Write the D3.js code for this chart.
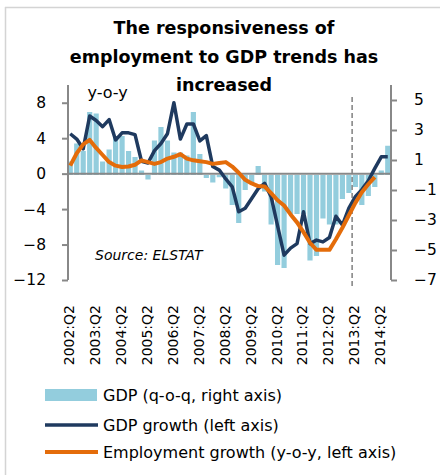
<!DOCTYPE html>
<html>
<head>
<meta charset="utf-8">
<script src="https://cdn.jsdelivr.net/npm/d3@7"></script>
<style>
  html, body { margin: 0; padding: 0; background: #fff; }
  svg { display: block; font-family: "DejaVu Sans", sans-serif; }
</style>
</head>
<body>
<svg id="chart" width="440" height="475"></svg>
<script>
// Quarterly categories, 2002:Q2 .. 2014:Q3
const quarters = [
  "2002:Q2","2002:Q3","2002:Q4","2003:Q1","2003:Q2","2003:Q3","2003:Q4","2004:Q1",
  "2004:Q2","2004:Q3","2004:Q4","2005:Q1","2005:Q2","2005:Q3","2005:Q4","2006:Q1",
  "2006:Q2","2006:Q3","2006:Q4","2007:Q1","2007:Q2","2007:Q3","2007:Q4","2008:Q1",
  "2008:Q2","2008:Q3","2008:Q4","2009:Q1","2009:Q2","2009:Q3","2009:Q4","2010:Q1",
  "2010:Q2","2010:Q3","2010:Q4","2011:Q1","2011:Q2","2011:Q3","2011:Q4","2012:Q1",
  "2012:Q2","2012:Q3","2012:Q4","2013:Q1","2013:Q2","2013:Q3","2013:Q4","2014:Q1",
  "2014:Q2","2014:Q3"
];

// GDP, quarter-on-quarter % (right axis)
const gdpQoQ = [
  0.9, 2.1, 1.6, 4.2, 4.1, 0.9, 1.7, 2.5, 2.6, 1.6,
  1.2, 0.3, -0.3, 2.3, 3.2, 2.3, 1.5, 1.5, 1.3, 4.2,
  1.4, -0.2, -0.5, -0.15, -0.9, -2.0, -3.2, -1.0, -0.6, 0.6,
  -1.1, -3.3, -6.0, -6.2, -2.6, -2.6, -2.6, -5.7, -5.4, -2.9,
  -3.3, -3.3, -1.6, -1.2, -0.8, -2.0, -1.4, -0.8, 0.3, 1.95
];

// GDP growth, year-on-year % (left axis)
const gdpGrowth = [
  4.5, 3.9, 2.8, 6.5, 6.0, 5.3, 6.1, 3.8, 4.6, 4.6,
  4.4, 1.4, 1.2, 2.6, 3.4, 4.5, 8.0, 3.9, 5.6, 5.6,
  3.7, 4.3, 0.8, 0.4, -0.6, -1.5, -4.3, -3.9, -2.8, -1.7,
  -1.1, -2.6, -5.9, -9.2, -8.4, -7.9, -4.3, -7.9, -7.5, -7.7,
  -7.2, -4.8, -5.8, -3.9, -2.6, -1.8, -0.8, 0.6, 1.9, 1.9
];

// Employment growth, year-on-year % (left axis), through 2014:Q1
const employmentGrowth = [
  0.9, 2.3, 3.3, 3.8, 2.9, 2.1, 1.3, 0.9, 0.75, 0.8,
  1.0, 1.5, 1.3, 1.1, 1.3, 1.7, 1.9, 2.2, 1.7, 1.5,
  1.4, 1.3, 1.1, 1.2, 1.3, 0.8, 0.1, -0.7, -1.1, -1.4,
  -1.45, -2.2, -3.0, -3.6, -4.6, -5.5, -6.6, -7.8, -8.6, -8.6,
  -8.6, -7.4, -6.1, -4.7, -3.3, -2.1, -1.2, -0.4
];

const leftTicks = [-12, -8, -4, 0, 4, 8];
const rightTicks = [-7, -5, -3, -1, 1, 3, 5];
const labelQuarters = [
  "2002:Q2","2003:Q2","2004:Q2","2005:Q2","2006:Q2","2007:Q2","2008:Q2",
  "2009:Q2","2010:Q2","2011:Q2","2012:Q2","2013:Q2","2014:Q2"
];
const markerQuarter = "2013:Q2";

const titleLines = ["The responsiveness of", "employment to GDP trends has", "increased"];
const seriesNames = ["GDP (q-o-q, right axis)", "GDP growth (left axis)", "Employment growth (y-o-y, left axis)"];

const colors = { bar: "#93cddd", gdp: "#1f3a5f", emp: "#e46c0a", axis: "#888888", frame: "#d4d4d4" };

const svg = d3.select("#chart");

// light frame on the left and top
svg.append("line").attr("x1", 5.5).attr("x2", 5.5).attr("y1", 7).attr("y2", 475)
  .attr("stroke", colors.frame).attr("stroke-width", 1.5);
svg.append("line").attr("x1", 5).attr("x2", 440).attr("y1", 7.5).attr("y2", 7.5)
  .attr("stroke", colors.frame).attr("stroke-width", 1.5);

const plot = { left: 67, right: 391, top: 85, bottom: 280 };

const x = d3.scaleBand().domain(quarters).range([plot.left, plot.right])
  .paddingInner(0.2).paddingOuter(0.1);
const yL = d3.scaleLinear().domain([-12, 10]).range([plot.bottom, plot.top]);
const yR = d3.scaleLinear().domain([-7, 6]).range([plot.bottom, plot.top]);
const cx = q => x(q) + x.bandwidth() / 2;

// bars: GDP q-o-q on the right axis
svg.append("g").selectAll("rect").data(gdpQoQ).join("rect")
  .attr("x", (d, i) => x(quarters[i]))
  .attr("width", x.bandwidth())
  .attr("y", d => Math.min(yR(d), yR(0)))
  .attr("height", d => Math.abs(yR(d) - yR(0)))
  .attr("fill", colors.bar);

// left axis
const axL = svg.append("g").attr("transform", `translate(${plot.left + 1},0)`)
  .call(d3.axisLeft(yL).tickValues(leftTicks).tickSize(6).tickPadding(16).tickFormat(d3.format("d")));
axL.select(".domain").attr("d", `M0,${plot.top}V${plot.bottom}`);

// right axis
const axR = svg.append("g").attr("transform", `translate(${plot.right},0)`)
  .call(d3.axisRight(yR).tickValues(rightTicks).tickSize(6).tickPadding(17).tickFormat(d3.format("d")));
axR.select(".domain").attr("d", `M0,${plot.top}V${plot.bottom}`);

[axL, axR].forEach(ax => {
  ax.selectAll(".domain, .tick line").attr("stroke", colors.axis).attr("stroke-width", 2);
  ax.selectAll(".tick text").attr("fill", "#000").style("font-size", "15.5px")
    .style("font-family", "'DejaVu Sans', sans-serif");
});

// category axis along zero, labels at the bottom
svg.append("line").attr("x1", plot.left).attr("x2", plot.right)
  .attr("y1", yL(0)).attr("y2", yL(0))
  .attr("stroke", colors.axis).attr("stroke-width", 2);

const axX = svg.append("g").attr("transform", `translate(0,${plot.bottom})`)
  .call(d3.axisBottom(x).tickValues(labelQuarters).tickSize(0).tickPadding(0));
axX.select(".domain").remove();
axX.selectAll(".tick text")
  .attr("transform", "translate(-1,25) rotate(-90)")
  .attr("text-anchor", "end").attr("dy", "0.35em").attr("y", 0)
  .attr("fill", "#000").style("font-size", "14px")
  .style("font-family", "'DejaVu Sans', sans-serif");

// dashed marker at the start of 2013:Q2
const mx = x(markerQuarter) - (x.step() - x.bandwidth()) / 2;
svg.append("line").attr("x1", mx).attr("x2", mx).attr("y1", 97).attr("y2", 287)
  .attr("stroke", "#808080").attr("stroke-width", 1.5).attr("stroke-dasharray", "5,3");

// lines
const lineL = d3.line().x((d, i) => cx(quarters[i])).y(d => yL(d));
svg.append("path").datum(gdpGrowth).attr("d", lineL)
  .attr("fill", "none").attr("stroke", colors.gdp).attr("stroke-width", 3.5)
  .attr("stroke-linejoin", "round");
svg.append("path").datum(employmentGrowth).attr("d", lineL)
  .attr("fill", "none").attr("stroke", colors.emp).attr("stroke-width", 4)
  .attr("stroke-linejoin", "round");

// annotations
svg.append("text").attr("x", 87.5).attr("y", 98).text("y-o-y")
  .style("font-size", "16px");
svg.append("text").attr("x", 95).attr("y", 260).text("Source: ELSTAT")
  .style("font-size", "14px").style("font-style", "italic");

// title
svg.append("g").selectAll("text").data(titleLines).join("text")
  .attr("x", 224).attr("y", (d, i) => 34 + i * 28.5)
  .attr("text-anchor", "middle")
  .style("font-size", "17.5px").style("font-weight", "bold")
  .text(d => d);

// legend
const lg = svg.append("g");
const rows = [395, 425, 452];
lg.append("rect").attr("x", 45).attr("y", rows[0] - 6).attr("width", 52).attr("height", 12)
  .attr("fill", colors.bar);
lg.append("line").attr("x1", 45).attr("x2", 98).attr("y1", rows[1]).attr("y2", rows[1])
  .attr("stroke", colors.gdp).attr("stroke-width", 3.5);
lg.append("line").attr("x1", 45).attr("x2", 98).attr("y1", rows[2]).attr("y2", rows[2])
  .attr("stroke", colors.emp).attr("stroke-width", 4);
lg.selectAll("text").data(seriesNames).join("text")
  .attr("x", 103).attr("y", (d, i) => rows[i]).attr("dy", "0.35em")
  .style("font-size", "16px").text(d => d);
</script>
</body>
</html>
